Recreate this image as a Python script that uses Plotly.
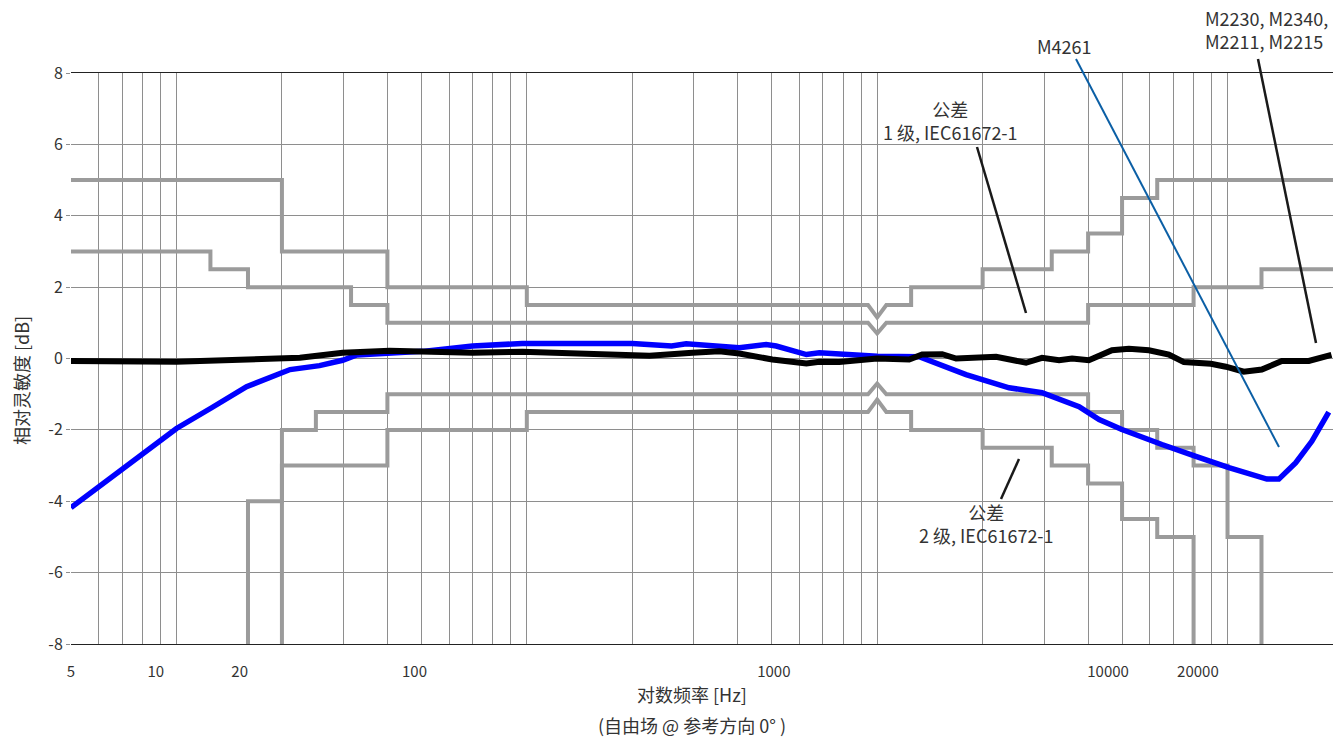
import math
import plotly.graph_objects as go

# ---------------- data ----------------
# x tick labels, placed where they are printed on the reference
TICK_LABEL_FREQ = [5, 8.73, 15.15, 47.8, 507, 4560, 8230]
TICK_LABEL_TEXT = ["5", "10", "20", "100", "1000", "10000", "20000"]
DECADE_TICKS = [10, 100, 1000, 10000]
Y_TICKS = [-8, -6, -4, -2, 0, 2, 4, 6, 8]
Y_TICK_TEXT = ["-8", "-6", "-4", "-2", "0", "2", "4", "6", "8"]

# IEC 61672-1 tolerance bands (band edges in Hz, one level per band, None = -inf)
TOL_EDGES = [5, 12.5, 16, 20, 25, 31.5, 40, 100, 1000, 1250, 2000, 3150,
             4000, 5000, 6300, 8000, 10000, 12500, 20000]
CLASS1_UPPER = [3, 2.5, 2, 2, 2, 1.5, 1, 1, 1, 1, 1, 1, 1.5, 1.5, 1.5, 2, 2, 2.5]
CLASS1_LOWER = [None, None, -4, -2, -1.5, -1.5, -1, -1, -1, -1, -1, -1,
                -1.5, -2, -2.5, -3, -5, None]
CLASS2_UPPER = [5, 5, 5, 3, 3, 3, 2, 1.5, 1.5, 2, 2.5, 3, 3.5, 4.5, 5, 5, 5, 5]
CLASS2_LOWER = [None, None, None, -3, -3, -3, -2, -1.5, -1.5, -2, -2.5, -3,
                -3.5, -4.5, -5, None, None, None]
NOTCH_FREQ = 1000
CLASS1_NOTCH = 0.3
CLASS2_NOTCH = 0.35

# M4261 response (blue)
M4261_FREQ = [5, 6.05, 7.95, 10.0, 12.6, 15.85, 20, 21.1, 25.6, 29.8,
              32.7, 40.6, 50.4, 70, 97, 172, 200, 259, 285, 404,
              482, 515, 628, 684, 1000, 1318, 1407, 1793, 2380, 2955,
              3770, 4300, 4995, 5585, 6497, 8120, 10090, 12950, 14010, 15660,
              17400, 19450]
M4261_DB = [-4.18, -3.58, -2.69, -1.96, -1.38, -0.79, -0.4, -0.31, -0.2, -0.05,
            0.1, 0.15, 0.2, 0.35, 0.42, 0.42, 0.42, 0.35, 0.41, 0.3,
            0.39, 0.35, 0.11, 0.16, 0.06, 0.05, -0.05, -0.45, -0.82, -0.96,
            -1.35, -1.71, -1.99, -2.18, -2.41, -2.74, -3.06, -3.38, -3.38, -2.92,
            -2.32, -1.5]

# M2230 / M2340 / M2211 / M2215 response (black)
M22XX_FREQ = [5, 10, 22.5, 29.8, 40.6, 56.4, 70, 97, 172, 224,
              297, 354, 404, 502, 628, 684, 779, 1000, 1234, 1344,
              1533, 1680, 2185, 2660, 2955, 3305, 3600, 4020, 4680, 5230,
              5965, 6800, 7505, 8965, 9890, 11130, 12525, 14285, 17060, 19450,
              19800]
M22XX_DB = [-0.07, -0.09, 0.02, 0.16, 0.22, 0.19, 0.16, 0.19, 0.09, 0.08,
            0.16, 0.2, 0.14, -0.03, -0.14, -0.09, -0.1, 0.0, -0.03, 0.11,
            0.12, 0.0, 0.05, -0.12, 0.02, -0.05, 0.0, -0.05, 0.23, 0.27,
            0.23, 0.11, -0.1, -0.15, -0.23, -0.37, -0.31, -0.07, -0.07, 0.07,
            0.1]

# ---------------- styling / layout ----------------
W, H = 1333, 737
L, R, T, B = 71, 0, 73, 93
PLOT_W, PLOT_H = W - L - R, H - T - B
X_RANGE = [math.log10(5), math.log10(20000)]
Y_RANGE = [-8, 8]
GRID = "#8e8e8e"
TOL_COLOR = "#9b9b9b"
TEXT = "#333333"
FONT = "Noto Sans CJK SC"
FLOOR = -9.0
NOTCH_HALF = 1.062

GRID_F = [m * 10 ** e for e in range(0, 5) for m in range(1, 10)
          if 5 <= m * 10 ** e <= 20000]


def step_path(levels, notch):
    xs, ys = [], []
    n = len(levels)
    for i, v in enumerate(levels):
        if v is None:
            continue
        f0, f1 = TOL_EDGES[i], TOL_EDGES[i + 1]
        if not xs and i > 0 and levels[i - 1] is None:
            xs.append(f0)
            ys.append(FLOOR)
        if f0 == NOTCH_FREQ:
            f0 = NOTCH_FREQ * NOTCH_HALF
        if f1 == NOTCH_FREQ:
            xs += [f0, NOTCH_FREQ / NOTCH_HALF, NOTCH_FREQ]
            ys += [v, v, v - notch if v > 0 else v + notch]
            continue
        xs += [f0, f1]
        ys += [v, v]
        if i + 1 < n and levels[i + 1] is None:
            xs.append(f1)
            ys.append(FLOOR)
    return xs, ys


# pixel -> paper / data helpers for decorations
def ppx(x):
    return (x - L) / PLOT_W


def ppy(y):
    return (H - B - y) / PLOT_H


def dx(x):
    return X_RANGE[0] + (x - L) / PLOT_W * (X_RANGE[1] - X_RANGE[0])


def dy(y):
    return Y_RANGE[1] - (y - T) / PLOT_H * (Y_RANGE[1] - Y_RANGE[0])


fig = go.Figure()

for levels, notch in [(CLASS2_UPPER, CLASS2_NOTCH), (CLASS1_UPPER, CLASS1_NOTCH),
                      (CLASS1_LOWER, CLASS1_NOTCH), (CLASS2_LOWER, CLASS2_NOTCH)]:
    xs, ys = step_path(levels, notch)
    fig.add_trace(go.Scatter(x=xs, y=ys, mode="lines",
                             line=dict(color=TOL_COLOR, width=4),
                             hoverinfo="skip"))

fig.add_trace(go.Scatter(x=M4261_FREQ, y=M4261_DB, mode="lines",
                         line=dict(color="#0000ff", width=5.5), name="M4261"))
fig.add_trace(go.Scatter(x=M22XX_FREQ, y=M22XX_DB, mode="lines",
                         line=dict(color="#000000", width=6), name="M2230"))

shapes = []
# white backgrounds behind the tolerance labels (above grid, below traces)
for (x0, y0, x1, y1) in [(848, 80, 1058, 151), (873, 483, 1084, 553)]:
    shapes.append(dict(type="rect", xref="x", yref="y", layer="between",
                       x0=dx(x0), x1=dx(x1), y0=dy(y1), y1=dy(y0),
                       fillcolor="white", line=dict(width=0)))
# leader lines
for (x0, y0, x1, y1, col, w) in [
        (977, 147, 1026, 313, "#1a1a1a", 2.5),
        (1019, 459, 1001, 499, "#1a1a1a", 2.5),
        (1076, 59, 1279, 447, "#0b5fa5", 2),
        (1258, 59, 1316, 343, "#1a1a1a", 2.5)]:
    shapes.append(dict(type="line", xref="paper", yref="paper", layer="above",
                       x0=ppx(x0), y0=ppy(y0), x1=ppx(x1), y1=ppy(y1),
                       line=dict(color=col, width=w)))

annotations = []


def note(text, x, y, size=18, angle=0, align="center"):
    annotations.append(dict(text=text, xref="paper", yref="paper",
                            x=ppx(x), y=ppy(y), xanchor="center", yanchor="middle",
                            showarrow=False, textangle=angle, align=align,
                            font=dict(family=FONT, size=size, color=TEXT)))


note("相对灵敏度 [dB]", 21, 381, angle=-90)
note("对数频率 [Hz]", 692, 694)
note("(自由场 @ 参考方向 0° )", 692, 725)
note("公差<br>1 级, IEC61672-1", 950, 120)
note("公差<br>2 级, IEC61672-1", 986, 523)
note("M4261", 1064, 46)
note("M2230, M2340,<br>M2211, M2215", 1266, 30, align="left")

fig.update_layout(
    width=W, height=H,
    margin=dict(l=L, r=R, t=T, b=B, pad=0),
    paper_bgcolor="white", plot_bgcolor="white",
    showlegend=False,
    font=dict(family=FONT, color=TEXT),
    xaxis=dict(type="log", range=X_RANGE, tickmode="array",
               tickvals=TICK_LABEL_FREQ, ticktext=TICK_LABEL_TEXT,
               ticks="", showgrid=False, zeroline=False,
               minor=dict(tickmode="array", tickvals=GRID_F, showgrid=True,
                          gridcolor=GRID, gridwidth=1, ticks=""),
               showline=True, linecolor="#222222", linewidth=1.3, mirror=True,
               tickfont=dict(family=FONT, size=15, color=TEXT),
               ticklabelstandoff=14),
    xaxis2=dict(type="log", range=X_RANGE, overlaying="x", anchor="y",
                side="bottom", tickmode="array", tickvals=DECADE_TICKS,
                ticks="outside", ticklen=7, tickwidth=1, tickcolor="#555555",
                showticklabels=False, showgrid=False, zeroline=False,
                showline=False),
    yaxis=dict(range=Y_RANGE, tickmode="array", tickvals=Y_TICKS,
               ticktext=Y_TICK_TEXT,
               ticks="outside", ticklen=4, tickcolor=GRID,
               showgrid=True, gridcolor=GRID, gridwidth=1, zeroline=False,
               showline=False,
               tickfont=dict(family=FONT, size=16, color=TEXT)),
    shapes=shapes,
    annotations=annotations,
)

fig.write_html(
    "out.html",
    config={"displayModeBar": False},
    post_script="document.body.style.margin='0';document.body.style.overflow='hidden';",
)
